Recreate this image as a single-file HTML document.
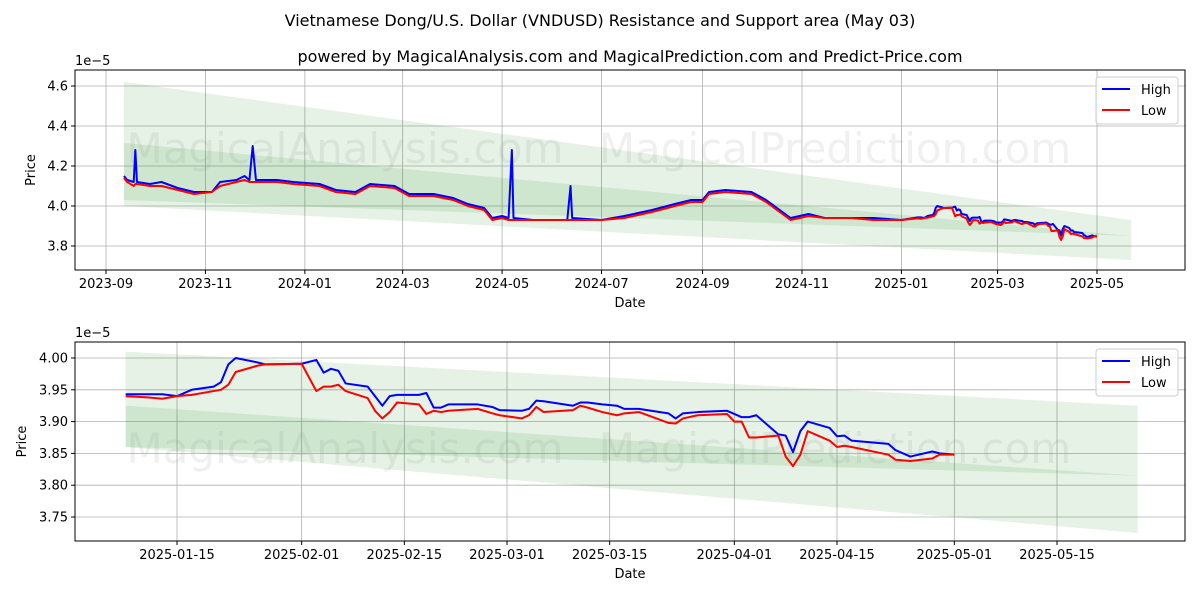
<!DOCTYPE html>
<html><head><meta charset="utf-8"><style>
body{margin:0;background:#fff;font-family:"DejaVu Sans","Liberation Sans",sans-serif}
svg text{font-family:"DejaVu Sans","Liberation Sans",sans-serif}
</style></head><body>
<svg id="chart" width="1200" height="600" xmlns="http://www.w3.org/2000/svg">
<rect width="1200" height="600" fill="#fff"/>
<text x="600" y="26" text-anchor="middle" font-size="16">Vietnamese Dong/U.S. Dollar (VNDUSD) Resistance and Support area (May 03)</text>
<text x="630" y="62" text-anchor="middle" font-size="16">powered by MagicalAnalysis.com and MagicalPrediction.com and Predict-Price.com</text>
<g id="top"></g><g id="bot"></g>
</svg>
<script>
// ---- data ----
const topDates=["2023-09-12","2023-09-14","2023-09-18","2023-09-19","2023-09-20","2023-09-28","2023-10-05","2023-10-15","2023-10-25","2023-11-05","2023-11-10","2023-11-20","2023-11-25","2023-11-28","2023-11-30","2023-12-02","2023-12-15","2023-12-25","2024-01-10","2024-01-20","2024-02-01","2024-02-10","2024-02-25","2024-03-05","2024-03-20","2024-04-01","2024-04-10","2024-04-20","2024-04-25","2024-05-01","2024-05-05","2024-05-07","2024-05-08","2024-05-20","2024-06-10","2024-06-12","2024-06-13","2024-07-01","2024-07-15","2024-08-01","2024-08-15","2024-08-25","2024-09-01","2024-09-05","2024-09-15","2024-10-01","2024-10-10","2024-10-20","2024-10-25","2024-11-05","2024-11-15","2024-12-01","2024-12-15","2025-01-01"];
const topHigh=[4.15,4.13,4.12,4.28,4.12,4.11,4.12,4.09,4.07,4.07,4.12,4.13,4.15,4.13,4.30,4.13,4.13,4.12,4.11,4.08,4.07,4.11,4.10,4.06,4.06,4.04,4.01,3.99,3.94,3.95,3.94,4.28,3.94,3.93,3.93,4.10,3.94,3.93,3.95,3.98,4.01,4.03,4.03,4.07,4.08,4.07,4.03,3.97,3.94,3.96,3.94,3.94,3.94,3.93];
const topLow=[4.14,4.12,4.10,4.11,4.11,4.10,4.10,4.08,4.06,4.07,4.10,4.12,4.13,4.12,4.12,4.12,4.12,4.11,4.10,4.07,4.06,4.10,4.09,4.05,4.05,4.03,4.00,3.98,3.93,3.94,3.93,3.93,3.93,3.93,3.93,3.93,3.93,3.93,3.94,3.97,4.00,4.02,4.02,4.06,4.07,4.06,4.02,3.96,3.93,3.95,3.94,3.94,3.93,3.93];
const recentDates=["2025-01-08","2025-01-11","2025-01-13","2025-01-15","2025-01-17","2025-01-20","2025-01-21","2025-01-22","2025-01-23","2025-01-26","2025-01-27","2025-02-01","2025-02-03","2025-02-04","2025-02-05","2025-02-06","2025-02-07","2025-02-10","2025-02-11","2025-02-12","2025-02-13","2025-02-14","2025-02-17","2025-02-18","2025-02-19","2025-02-20","2025-02-21","2025-02-25","2025-02-27","2025-02-28","2025-03-03","2025-03-04","2025-03-05","2025-03-06","2025-03-10","2025-03-11","2025-03-12","2025-03-14","2025-03-16","2025-03-17","2025-03-19","2025-03-23","2025-03-24","2025-03-25","2025-03-27","2025-03-31","2025-04-01","2025-04-02","2025-04-03","2025-04-04","2025-04-07","2025-04-08","2025-04-09","2025-04-10","2025-04-11","2025-04-14","2025-04-15","2025-04-16","2025-04-17","2025-04-22","2025-04-23","2025-04-25","2025-04-28","2025-04-29","2025-05-01"];
const recentHigh=[3.943,3.943,3.943,3.940,3.950,3.955,3.962,3.990,4.000,3.993,3.990,3.991,3.997,3.977,3.983,3.980,3.960,3.955,3.940,3.925,3.940,3.942,3.942,3.945,3.922,3.922,3.927,3.927,3.923,3.918,3.917,3.920,3.933,3.932,3.925,3.930,3.930,3.927,3.925,3.920,3.920,3.913,3.905,3.913,3.915,3.917,3.912,3.907,3.907,3.910,3.880,3.878,3.852,3.885,3.900,3.890,3.877,3.878,3.870,3.865,3.855,3.845,3.853,3.850,3.848];
const recentLow=[3.940,3.938,3.936,3.940,3.942,3.948,3.950,3.958,3.978,3.988,3.990,3.991,3.948,3.955,3.955,3.958,3.948,3.937,3.917,3.905,3.915,3.930,3.927,3.912,3.917,3.915,3.917,3.920,3.913,3.910,3.905,3.910,3.923,3.915,3.918,3.925,3.922,3.915,3.910,3.913,3.915,3.898,3.897,3.905,3.910,3.912,3.900,3.900,3.875,3.875,3.878,3.845,3.830,3.848,3.885,3.870,3.860,3.862,3.860,3.848,3.840,3.838,3.842,3.848,3.848];
const topBandDates=["2023-09-12","2025-05-22"];
const topResUpper=[4.62,3.93], topResLower=[4.03,3.85];
const topSupUpper=[4.315,3.85], topSupLower=[4.00,3.73];
const botBandDates=["2025-01-08","2025-05-26"];
const botResUpper=[4.01,3.925], botResLower=[3.86,3.815];
const botSupUpper=[3.925,3.815], botSupLower=[3.86,3.725];
const topYTicks=[3.8,4.0,4.2,4.4,4.6];
const topXTicks=["2023-09-01","2023-11-01","2024-01-01","2024-03-01","2024-05-01","2024-07-01","2024-09-01","2024-11-01","2025-01-01","2025-03-01","2025-05-01"];
const botYTicks=[3.75,3.80,3.85,3.90,3.95,4.00];
const botXTicks=["2025-01-15","2025-02-01","2025-02-15","2025-03-01","2025-03-15","2025-04-01","2025-04-15","2025-05-01","2025-05-15"];
// ---- drawing ----
const NS="http://www.w3.org/2000/svg";
function T(s){return Date.parse(s+"T00:00:00Z")/86400000;}
function mk(p,tag,a){const e=document.createElementNS(NS,tag);for(const k in a)e.setAttribute(k,a[k]);p.appendChild(e);return e;}
function panel(g,o){
  const L=75,R=1185,Tp=o.top,B=o.bot;
  const x=d=>o.x0+(T(d)-T(o.d0))*o.kx;
  const y=v=>o.y0+(o.v0-v)*o.ky;
  const fr=mk(g,"rect",{x:L,y:Tp,width:R-L,height:B-Tp,fill:"none",stroke:"#000","stroke-width":1});
  
  o.xt.forEach(d=>{const X=x(d);
    const l=mk(g,"line",{x1:X,x2:X,y1:Tp,y2:B,stroke:"#b0b0b0","stroke-width":0.8});
    
    mk(g,"line",{x1:X,x2:X,y1:B,y2:B+4,stroke:"#000"});
    const t=mk(g,"text",{x:X,y:B+18,"text-anchor":"middle","font-size":13});t.textContent=d.slice(0,o.fmt);
    });
  o.yt.forEach(v=>{const Y=y(v);
    const l=mk(g,"line",{x1:L,x2:R,y1:Y,y2:Y,stroke:"#b0b0b0","stroke-width":0.8});
    
    mk(g,"line",{x1:L-4,x2:L,y1:Y,y2:Y,stroke:"#000"});
    const t=mk(g,"text",{x:L-7,y:Y+4.5,"text-anchor":"end","font-size":13});t.textContent=v.toFixed(o.dec);
    });
  [[o.ru,o.rl,'resistance-band'],[o.su,o.sl,'support-band']].forEach(([u,lo,n])=>{
    const pts=[[o.bd[0],u[0]],[o.bd[1],u[1]],[o.bd[1],lo[1]],[o.bd[0],lo[0]]].map(p=>x(p[0])+","+y(p[1])).join(" ");
    const p=mk(g,"polygon",{points:pts,fill:"rgba(0,128,0,0.1)"});
    });
  const wm=[[o.wm1x,"MagicalAnalysis.com"],[o.wm2x,"MagicalPrediction.com"]];
  wm.forEach(([X,s])=>{const t=mk(g,"text",{x:X,y:o.wmy,"text-anchor":"middle","font-size":42,fill:"rgba(128,128,128,0.12)"});t.textContent=s;
    });
  [[o.hi,"#0000ff",'high-line'],[o.lo,"#ff0000",'low-line']].forEach(([vals,c,n])=>{
    const p=mk(g,"polyline",{points:o.dates.map((d,i)=>x(d)+","+y(vals[i])).join(" "),fill:"none",stroke:c,"stroke-width":2,"stroke-linejoin":"round"});
    });
  mk(g,"rect",{x:L,y:Tp,width:R-L,height:B-Tp,fill:"none",stroke:"#000","stroke-width":1});
  const ex=mk(g,"text",{x:L,y:Tp-5,"font-size":13});ex.textContent="1e\u22125";
  
  const yl=mk(g,"text",{x:0,y:0,"text-anchor":"middle","font-size":13,transform:`translate(${o.ylx},${(Tp+B)/2}) rotate(-90)`});yl.textContent="Price";
  
  const xl=mk(g,"text",{x:630,y:B+37,"text-anchor":"middle","font-size":13});xl.textContent="Date";
  
  const lg=mk(g,"g",{});
  mk(lg,"rect",{x:1096,y:Tp+7,width:82,height:47,rx:3,fill:"#fff","fill-opacity":0.8,stroke:"#ccc"});
  [["High","#0000ff",Tp+19],["Low","#ff0000",Tp+40]].forEach(([s,c,Y])=>{
    mk(lg,"line",{x1:1102,x2:1130,y1:Y,y2:Y,stroke:c,"stroke-width":2});
    const t=mk(lg,"text",{x:1141,y:Y+5,"font-size":13});t.textContent=s;
    });
}
const allDates=topDates.concat(recentDates.slice(1)),allHigh=topHigh.concat(recentHigh.slice(1)),allLow=topLow.concat(recentLow.slice(1));
panel(document.getElementById("top"),{name:'top',top:70,bot:270,x0:106,d0:"2023-09-01",kx:991/608,y0:86,v0:4.6,ky:200,
  xt:topXTicks,fmt:7,yt:topYTicks,dec:1,bd:topBandDates,ru:topResUpper,rl:topResLower,su:topSupUpper,sl:topSupLower,
  dates:allDates,hi:allHigh,lo:allLow,ylx:35,wm1x:345,wm2x:835,wmy:163});
panel(document.getElementById("bot"),{name:'bottom',top:342,bot:541,x0:177,d0:"2025-01-15",kx:880/120,y0:358,v0:4.0,ky:636,
  xt:botXTicks,fmt:10,yt:botYTicks,dec:2,bd:botBandDates,ru:botResUpper,rl:botResLower,su:botSupUpper,sl:botSupLower,
  dates:recentDates,hi:recentHigh,lo:recentLow,ylx:26,wm1x:345,wm2x:835,wmy:463});
</script>
</body></html>
